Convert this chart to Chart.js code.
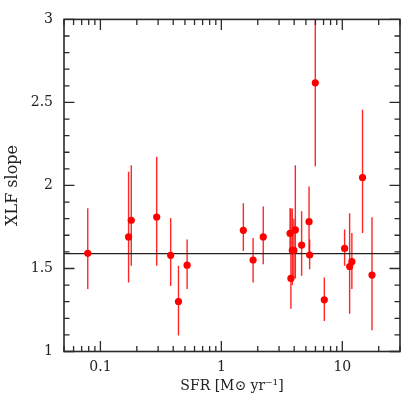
<!DOCTYPE html>
<html>
<head>
<meta charset="utf-8">
<script src="https://cdn.jsdelivr.net/npm/chart.js@4"></script>
<style>
html,body{margin:0;padding:0;background:#fff;}
canvas{display:block;}
</style>
</head>
<body>
<canvas id="c" width="415" height="415" style="width:415px;height:415px"></canvas>
<script>
// ---- data ----
const sfr    = [0.0786, 0.171, 0.180, 0.292, 0.381, 0.442, 0.521, 1.52, 1.83, 2.22, 3.70, 3.76, 3.86, 3.98, 4.09, 4.61, 5.31, 5.37, 5.98, 7.10, 10.45, 11.5, 12.0, 14.7, 17.6];
const slope  = [1.591, 1.690, 1.790, 1.810, 1.579, 1.301, 1.520, 1.730, 1.551, 1.690, 1.711, 1.440, 1.609, 1.609, 1.732, 1.641, 1.782, 1.581, 2.618, 1.311, 1.621, 1.512, 1.541, 2.048, 1.460];
const upper  = [1.863, 2.082, 2.122, 2.173, 1.804, 1.516, 1.675, 1.893, 1.684, 1.873, 1.863, 1.863, 1.860, 1.800, 2.122, 1.844, 1.993, 1.675, 3.300, 1.446, 1.734, 1.833, 1.714, 2.456, 1.808];
const lower  = [1.377, 1.416, 1.516, 1.516, 1.395, 1.097, 1.377, 1.605, 1.416, 1.526, 1.600, 1.258, 1.400, 1.440, 1.440, 1.456, 1.600, 1.496, 2.116, 1.184, 1.516, 1.228, 1.377, 1.714, 1.128];
const fitSlope = 1.59;
const xTickLabels = [0.1, 1, 10];
const yTickLabels = [1, 1.5, 2, 2.5, 3];
const X_MIN = 0.05, X_MAX = 30, Y_MIN = 1, Y_MAX = 3;

const AXIS_COLOR = '#2a2a2a';
const TEXT_COLOR = '#222';
const FONT_FAMILY = '"DejaVu Serif", "Liberation Serif", serif';

const framePlugin = {
  id: 'frameTicks',
  beforeDatasetsDraw(chart) {
    const ctx = chart.ctx, xs = chart.scales.x, ys = chart.scales.y, a = chart.chartArea;
    ctx.save();
    ctx.beginPath();
    ctx.rect(a.left, a.top, a.right - a.left, a.bottom - a.top);
    ctx.clip();
    ctx.strokeStyle = 'rgba(255,0,0,0.85)';
    ctx.lineWidth = 1.4;
    for (let i = 0; i < sfr.length; i++) {
      const px = xs.getPixelForValue(sfr[i]);
      ctx.beginPath();
      ctx.moveTo(px, ys.getPixelForValue(upper[i]));
      ctx.lineTo(px, ys.getPixelForValue(lower[i]));
      ctx.stroke();
    }
    ctx.restore();
  },
  afterDraw(chart) {
    const ctx = chart.ctx, xs = chart.scales.x, ys = chart.scales.y, a = chart.chartArea;
    const MAJ = 10.5, MIN = 5.5;
    ctx.save();
    ctx.strokeStyle = AXIS_COLOR;
    ctx.lineWidth = 1.3;
    // x ticks (top & bottom, inward)
    for (let d = -2; d <= 1; d++) {
      for (let m = 1; m <= 9; m++) {
        const v = m * Math.pow(10, d);
        if (v < X_MIN - 1e-9 || v > X_MAX + 1e-9) continue;
        const p = xs.getPixelForValue(v);
        const len = (m === 1) ? MAJ : MIN;
        ctx.beginPath();
        ctx.moveTo(p, a.bottom); ctx.lineTo(p, a.bottom - len);
        ctx.moveTo(p, a.top); ctx.lineTo(p, a.top + len);
        ctx.stroke();
      }
    }
    // y ticks (left & right, inward)
    for (let k = 0; k <= 20; k++) {
      const v = Y_MIN + k * 0.1;
      const p = ys.getPixelForValue(v);
      const len = (k % 5 === 0) ? MAJ : MIN;
      ctx.beginPath();
      ctx.moveTo(a.left, p); ctx.lineTo(a.left + len, p);
      ctx.moveTo(a.right, p); ctx.lineTo(a.right - len, p);
      ctx.stroke();
    }
    // frame
    ctx.lineWidth = 1.6;
    ctx.strokeRect(a.left, a.top, a.right - a.left, a.bottom - a.top);
    ctx.restore();
  }
};

new Chart(document.getElementById('c'), {
  type: 'scatter',
  data: {
    datasets: [
      {
        label: 'points',
        data: sfr.map((x, i) => ({ x: x, y: slope[i] })),
        backgroundColor: '#ff0000',
        borderColor: '#ff0000',
        borderWidth: 0,
        pointRadius: 3.6,
        order: 0
      },
      {
        label: 'fit',
        type: 'line',
        data: [{ x: X_MIN, y: fitSlope }, { x: X_MAX, y: fitSlope }],
        borderColor: '#222',
        borderWidth: 1.3,
        pointRadius: 0,
        fill: false,
        order: 1
      }
    ]
  },
  options: {
    responsive: false,
    animation: false,
    layout: { padding: { left: 0, right: 15, top: 16, bottom: 0 } },
    plugins: { legend: { display: false }, tooltip: { enabled: false } },
    scales: {
      x: {
        type: 'logarithmic',
        min: X_MIN, max: X_MAX,
        grid: { display: false, drawTicks: false },
        border: { display: false },
        afterBuildTicks: s => { s.ticks = xTickLabels.map(v => ({ value: v, major: true })); },
        afterFit: s => { s.height = 63.5; },
        ticks: {
          autoSkip: false, maxRotation: 0, padding: 7,
          color: TEXT_COLOR,
          font: { family: FONT_FAMILY, size: 14 },
          callback: v => String(v)
        },
        title: {
          display: true, text: 'SFR [M⊙ yr⁻¹]',
          color: TEXT_COLOR,
          font: { family: FONT_FAMILY, size: 14 },
          padding: { top: 0, bottom: 20 }
        }
      },
      y: {
        min: Y_MIN, max: Y_MAX,
        grid: { display: false, drawTicks: false },
        border: { display: false },
        afterBuildTicks: s => { s.ticks = yTickLabels.map(v => ({ value: v })); },
        afterFit: s => { s.width = 64; },
        ticks: {
          padding: 11,
          color: TEXT_COLOR,
          font: { family: FONT_FAMILY, size: 14 },
          callback: v => String(v)
        },
        title: {
          display: true, text: 'XLF slope',
          color: TEXT_COLOR,
          font: { family: FONT_FAMILY, size: 16 },
          padding: { top: 3, bottom: 0 }
        }
      }
    }
  },
  plugins: [framePlugin]
});
</script>
</body>
</html>
